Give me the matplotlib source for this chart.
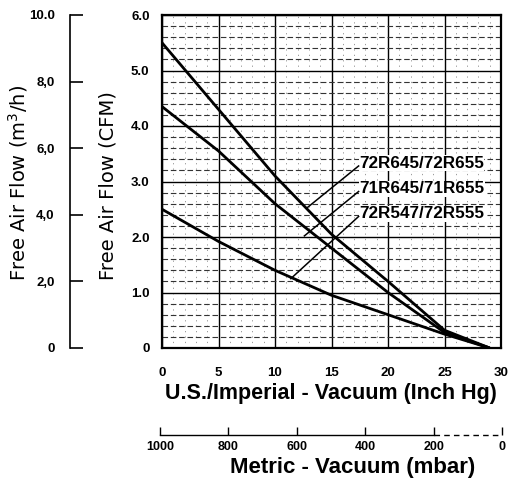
import matplotlib
matplotlib.use("Agg")
import matplotlib.pyplot as plt
from matplotlib.ticker import MultipleLocator

plt.rcParams['font.family'] = ['Liberation Sans', 'DejaVu Sans']

# ---- data ----
vacuum_inhg = [0, 5, 10, 15, 20, 25, 29]
flow_72r645 = [5.5, 4.3, 3.1, 2.05, 1.2, 0.32, 0.0]
flow_71r645 = [4.35, 3.55, 2.6, 1.8, 1.0, 0.28, 0.0]
flow_72r547 = [2.5, 1.92, 1.4, 0.95, 0.6, 0.25, 0.0]
series_labels = ["72R645/72R655", "71R645/71R655", "72R547/72R555"]

x_ticks = [0, 5, 10, 15, 20, 25, 30]
cfm_ticks = [0, 1, 2, 3, 4, 5, 6]
cfm_labels = ["0", "1.0", "2.0", "3.0", "4.0", "5.0", "6.0"]
m3h_ticks = [0, 2, 4, 6, 8, 10]
m3h_labels = ["0", "2,0", "4,0", "6,0", "8,0", "10.0"]
mbar_ticks = [1000, 800, 600, 400, 200, 0]

W, H = 513, 482
fig = plt.figure(figsize=(W / 100, H / 100), dpi=100)

def fx(px):
    return px / W

def fy(py):
    return 1 - py / H

# ---- main axes ----
L, R, T, B = 162, 501, 15, 348
ax = fig.add_axes([fx(L), fy(B), fx(R - L), (B - T) / H])
ax.set_xlim(0, 30)
ax.set_ylim(0, 6)
ax.set_xticks(x_ticks)
ax.set_xticklabels([str(v) for v in x_ticks], fontsize=9.5, fontweight='bold')
ax.set_yticks(cfm_ticks)
ax.set_yticklabels(cfm_labels, fontsize=9.5, fontweight='bold')
ax.yaxis.set_minor_locator(MultipleLocator(0.2))
ax.xaxis.set_minor_locator(MultipleLocator(1))
ax.tick_params(which='both', length=0)
ax.tick_params(axis='x', pad=14)
ax.tick_params(axis='y', pad=9)
for s in ax.spines.values():
    s.set_linewidth(1.6)
ax.grid(which='major', color='k', lw=1.0)
ax.grid(which='minor', axis='y', color='0.2', lw=0.8, ls=(0, (5, 2.5)))
ax.grid(which='minor', axis='x', color='0.55', lw=0.6, ls=(0, (1.5, 5)))
ax.set_axisbelow(True)

for ys in (flow_72r645, flow_71r645, flow_72r547):
    ax.plot(vacuum_inhg, ys, color='k', lw=2.0, solid_capstyle='butt', zorder=5)

# labels with leader lines
label_pos = [(17.3, 3.33), (17.3, 2.87), (17.3, 2.42)]
leader_end = [(12.8, 2.52), (12.6, 2.02), (11.4, 1.25)]
for lab, (tx, ty), (ex, ey) in zip(series_labels, label_pos, leader_end):
    ax.text(tx + 0.15, ty, lab, fontsize=12.3, fontweight='bold', ha='left',
            va='center', zorder=6,
            bbox=dict(facecolor='white', edgecolor='none', pad=0.3))
    ax.plot([tx + 0.1, ex], [ty - 0.05, ey], color='k', lw=1.1, zorder=6)

# ---- left m3/h scale ----
axm = fig.add_axes([fx(70), fy(B), 0.0005, (B - T) / H])
axm.set_ylim(0, 10)
axm.set_xticks([])
axm.set_yticks(m3h_ticks)
axm.set_yticklabels(m3h_labels, fontsize=9.5, fontweight='bold')
axm.tick_params(axis='y', direction='in', length=9, width=1.2, pad=11)
for k in ('top', 'right', 'bottom'):
    axm.spines[k].set_visible(False)
axm.spines['left'].set_linewidth(1.2)
axm.patch.set_visible(False)

# ---- bottom metric scale ----
axb = fig.add_axes([fx(160), fy(435), fx(502 - 160), 0.0005])
axb.set_xlim(1000, 0)
axb.set_ylim(0, 1)
axb.set_yticks([])
axb.set_xticks(mbar_ticks)
axb.set_xticklabels([str(v) for v in mbar_ticks], fontsize=9, fontweight='bold')
axb.tick_params(axis='x', direction='in', length=6, width=1.0, pad=4)
for s in axb.spines.values():
    s.set_visible(False)
axb.patch.set_visible(False)
axb.plot([1000, 200], [0, 0], color='k', lw=1.0, clip_on=False)
axb.plot([200, 0], [0, 0], color='k', lw=1.0, ls=(0, (4, 3)), clip_on=False)

# ---- axis titles ----
fig.text(fx(331), fy(393), "U.S./Imperial - Vacuum (Inch Hg)", ha='center',
         va='center', fontsize=15.5, fontweight='bold')
fig.text(fx(353), fy(467), "Metric - Vacuum (mbar)", ha='center',
         va='center', fontsize=16, fontweight='bold')
fig.text(fx(18), fy(183), "Free Air Flow (m$^3$/h)", rotation=90, ha='center',
         va='center', fontsize=14, family='DejaVu Sans')
fig.text(fx(108), fy(186), "Free Air Flow (CFM)", rotation=90, ha='center',
         va='center', fontsize=14, family='DejaVu Sans')

fig.savefig("out.png", dpi=100)
